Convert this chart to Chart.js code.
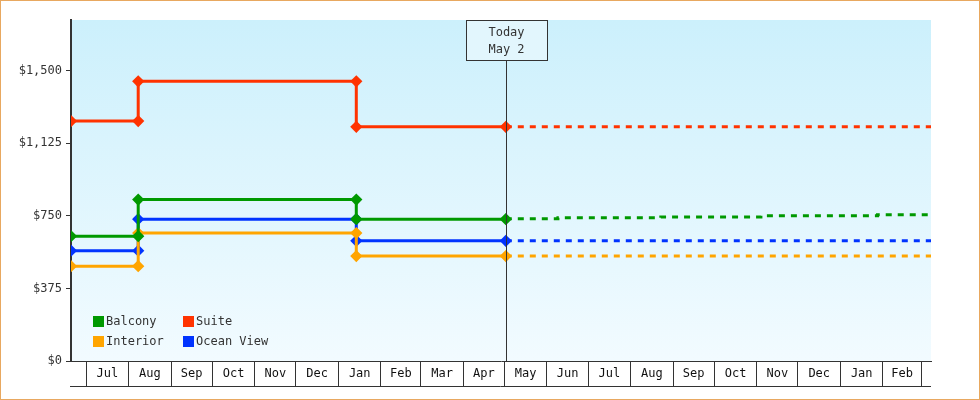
<!DOCTYPE html>
<html><head><meta charset="utf-8">
<script src="https://cdn.jsdelivr.net/npm/chart.js@4/dist/chart.umd.min.js"></script>
<style>
html,body{margin:0;padding:0;background:#fff}
#wrap{width:978px;height:398px;border:1px solid #e8a860;position:relative}
</style></head><body>
<div id="wrap"><canvas id="c" width="978" height="398"></canvas></div>
<script>
// days since Jul 1 2023
const monthStarts = [0,31,62,92,123,153,184,215,244,275,305,336,366,397,428,458,489,519,550,581,609];
const monthLabels = ['Jul','Aug','Sep','Oct','Nov','Dec','Jan','Feb','Mar','Apr','May','Jun','Jul','Aug','Sep','Oct','Nov','Dec','Jan','Feb'];
const histX = [-11,38,38,197,197,306];
const suiteHist    = [1240,1240,1445,1445,1210,1210];
const balconyHist  = [645,645,834,834,733,733];
const oceanHist    = [570,570,733,733,621,621];
const interiorHist = [490,490,661,661,542,542];
const fcX = [306,344,344,419,419,492,492,577,577,616];
const suiteFc    = [1210,1210,1210,1210,1210,1210,1210,1210,1210,1210];
const balconyFc  = [735,735,740,740,744,744,750,750,756,756];
const oceanFc    = [621,621,621,621,621,621,621,621,621,621];
const interiorFc = [542,542,542,542,542,542,542,542,542,542];
const yTicks = [0,375,750,1125,1500];
const todayX = 306;
const todayText = ['Today','May 2'];
const colors = {Balcony:'#009900',Suite:'#ff3300',Interior:'#ffa500','Ocean View':'#0033ff'};

const FONT = 'DejaVu Sans Mono';
const pts = (xs,ys)=>xs.map((x,i)=>({x,y:ys[i]}));
function hist(label,ys){return {label,data:pts(histX,ys),borderColor:colors[label],backgroundColor:colors[label],borderWidth:3,pointStyle:'rectRot',pointRadius:4,pointHoverRadius:4,tension:0};}
function fc(label,ys){return {label:label+' fc',data:pts(fcX,ys),borderColor:colors[label],borderWidth:3,borderDash:[6,6],pointRadius:0,tension:0};}
const mids = monthLabels.map((l,i)=>(monthStarts[i]+monthStarts[i+1])/2);

const plugin={id:'deco',
beforeDraw(ch){const {ctx,chartArea:a}=ch;const g=ctx.createLinearGradient(0,a.top,0,a.bottom);g.addColorStop(0,'#ccf0fc');g.addColorStop(1,'#f2fbff');ctx.fillStyle=g;ctx.fillRect(a.left,a.top,a.right-a.left,a.bottom-a.top);},
afterDraw(ch){const {ctx,chartArea:a,scales}=ch;const xs=scales.x;
 ctx.save();ctx.strokeStyle='#333';ctx.lineWidth=1;
 ctx.beginPath();ctx.moveTo(a.left-1,a.bottom+25.5);ctx.lineTo(a.right,a.bottom+25.5);ctx.stroke();
 ctx.fillStyle='#111';ctx.font='12px '+FONT;ctx.textAlign='center';ctx.textBaseline='middle';
 mids.forEach((m,i)=>ctx.fillText(monthLabels[i],xs.getPixelForValue(m),a.bottom+13));
 const tx=Math.round(xs.getPixelForValue(todayX))+0.5;
 ctx.beginPath();ctx.moveTo(tx,a.top+40);ctx.lineTo(tx,a.bottom);ctx.stroke();
 ctx.fillStyle='#e2f6fd';ctx.fillRect(tx-40,a.top,81,40);ctx.strokeRect(tx-40,a.top+0.5,81,40);
 ctx.fillStyle='#333';
 ctx.fillText(todayText[0],tx,a.top+13);ctx.fillText(todayText[1],tx,a.top+30);
 const items=[['Balcony',0,0],['Suite',1,0],['Interior',0,1],['Ocean View',1,1]];
 ctx.textAlign='left';
 items.forEach(([n,c,r])=>{const x=a.left+22+c*90,y=a.bottom-40+r*20;ctx.fillStyle=colors[n];ctx.fillRect(x,y-5,11,11);ctx.fillStyle='#333';ctx.fillText(n,x+13,y+1);});
 ctx.restore();}
};

new Chart(document.getElementById('c'),{type:'line',
data:{datasets:[hist('Balcony',balconyHist),hist('Suite',suiteHist),hist('Interior',interiorHist),hist('Ocean View',oceanHist),fc('Balcony',balconyFc),fc('Suite',suiteFc),fc('Interior',interiorFc),fc('Ocean View',oceanFc)]},
options:{responsive:false,animation:false,layout:{padding:{top:19,right:48,bottom:12,left:0}},
plugins:{legend:{display:false},tooltip:{enabled:false}},
scales:{
 x:{type:'linear',min:-11,max:616,
  afterBuildTicks(s){s.ticks=monthStarts.map(v=>({value:v}));},
  afterFit(s){s.height=26;},
  ticks:{display:false},
  grid:{drawOnChartArea:false,tickLength:25,color:'#333'},
  border:{color:'#333',width:1}},
 y:{min:0,max:1762,afterBuildTicks(s){s.ticks=yTicks.map(v=>({value:v}));},
  afterFit(s){s.width=70;},
  ticks:{color:'#333',padding:4,font:{family:FONT,size:12},callback:v=>'$'+v.toLocaleString('en-US')},
  grid:{drawOnChartArea:false,tickLength:5,color:'#333'},border:{color:'#333',width:2}}
}},plugins:[plugin]});
</script></body></html>
